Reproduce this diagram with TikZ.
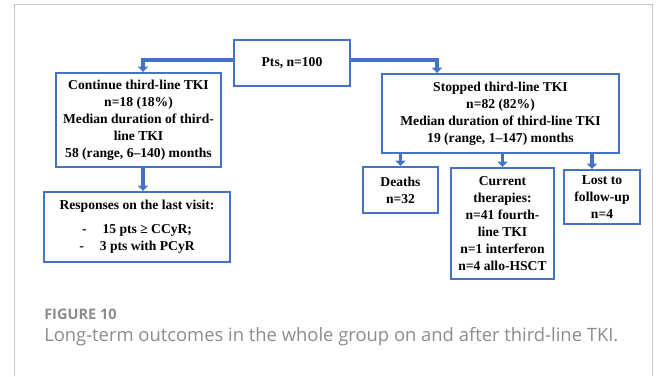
\documentclass[tikz,border=0pt]{standalone}
\usepackage{fontspec}
\setmainfont{Liberation Serif}
\newfontfamily\capfont{Open Sans}
\usepackage{xcolor}
\usetikzlibrary{arrows.meta,positioning}
\definecolor{boxblue}{HTML}{4472C4}
\definecolor{framegray}{HTML}{C8C8C8}
\definecolor{capgray}{HTML}{8C8C8C}

\begin{document}
\begin{tikzpicture}[x=0.75pt,y=-0.75pt,
  bx/.style={draw=boxblue,line width=1.5pt,align=center,inner sep=2pt,
             font=\fontsize{10.2}{12.75}\selectfont\bfseries},
  arr/.style={draw=boxblue,line width=2.6pt,-{Triangle[width=7.5pt,length=4pt]}},
  captext/.style={anchor=west,inner sep=0pt,text=capgray}]
  \useasboundingbox (0,0) rectangle (656,376);
  \draw[framegray,line width=0.75pt] (14,376) -- (14,4) -- (652,4) -- (652,376);
  % boxes
  \node[bx,minimum width=87pt,minimum height=34.5pt] (pts) at (292,63) {Pts, n=100};
  \node[bx,minimum width=123.75pt,minimum height=70.5pt] (cont) at (138.5,120)
    {Continue third-line TKI\\n=18 (18\%)\\Median duration of third-\\line TKI\\58 (range, 6--140) months};
  \node[bx,minimum width=139.5pt,minimum height=52.5pt] (resp) at (137,227)
    {Responses on the last visit:\\[5pt]-\hspace{12pt}15 pts ≥ CCyR;\\-\hspace{12pt}3 pts with PCyR};
  \node[bx,minimum width=177.75pt,minimum height=59.25pt] (stop) at (500.5,113.5)
    {Stopped third-line TKI\\n=82 (82\%)\\Median duration of third-line TKI\\19 (range, 1--147) months};
  \node[bx,minimum width=56.25pt,minimum height=34.5pt] (deaths) at (400.5,190) {Deaths\\n=32};
  \node[bx,minimum width=77.25pt,minimum height=83.25pt] (curr) at (502.5,223.5)
    {Current\\therapies:\\n=41 fourth-\\line TKI\\n=1 interferon\\n=4 allo-HSCT};
  \node[bx,minimum width=57pt,minimum height=40.5pt] (lost) at (602,197) {Lost to\\follow-up\\n=4};
  % connectors
  \draw[arr] ([yshift=2.25pt]pts.west) -| ([xshift=3.4pt]cont.north);
  \draw[arr] ([yshift=2.25pt]pts.east) -| ([xshift=-47.6pt]stop.north);
  \draw[arr] ([xshift=3.4pt]cont.south) -- ([xshift=3.4pt]cont.south |- resp.north);
  \foreach \b in {deaths,curr}
    \draw[arr] (stop.south -| \b.north) -- (\b.north);
  \draw[arr] ([xshift=-7.5pt]stop.south -| lost.north) -- ([xshift=-7.5pt]lost.north);
  % caption
  \node[captext,font=\capfont\bfseries\fontsize{10.9}{12}\selectfont] (fignum) at (44,314) {FIGURE 10};
  \node[captext,font=\capfont\fontsize{13.8}{15}\selectfont] (caption) at (44,337)
    {Long-term outcomes in the whole group on and after third-line TKI.};
\end{tikzpicture}
\end{document}
